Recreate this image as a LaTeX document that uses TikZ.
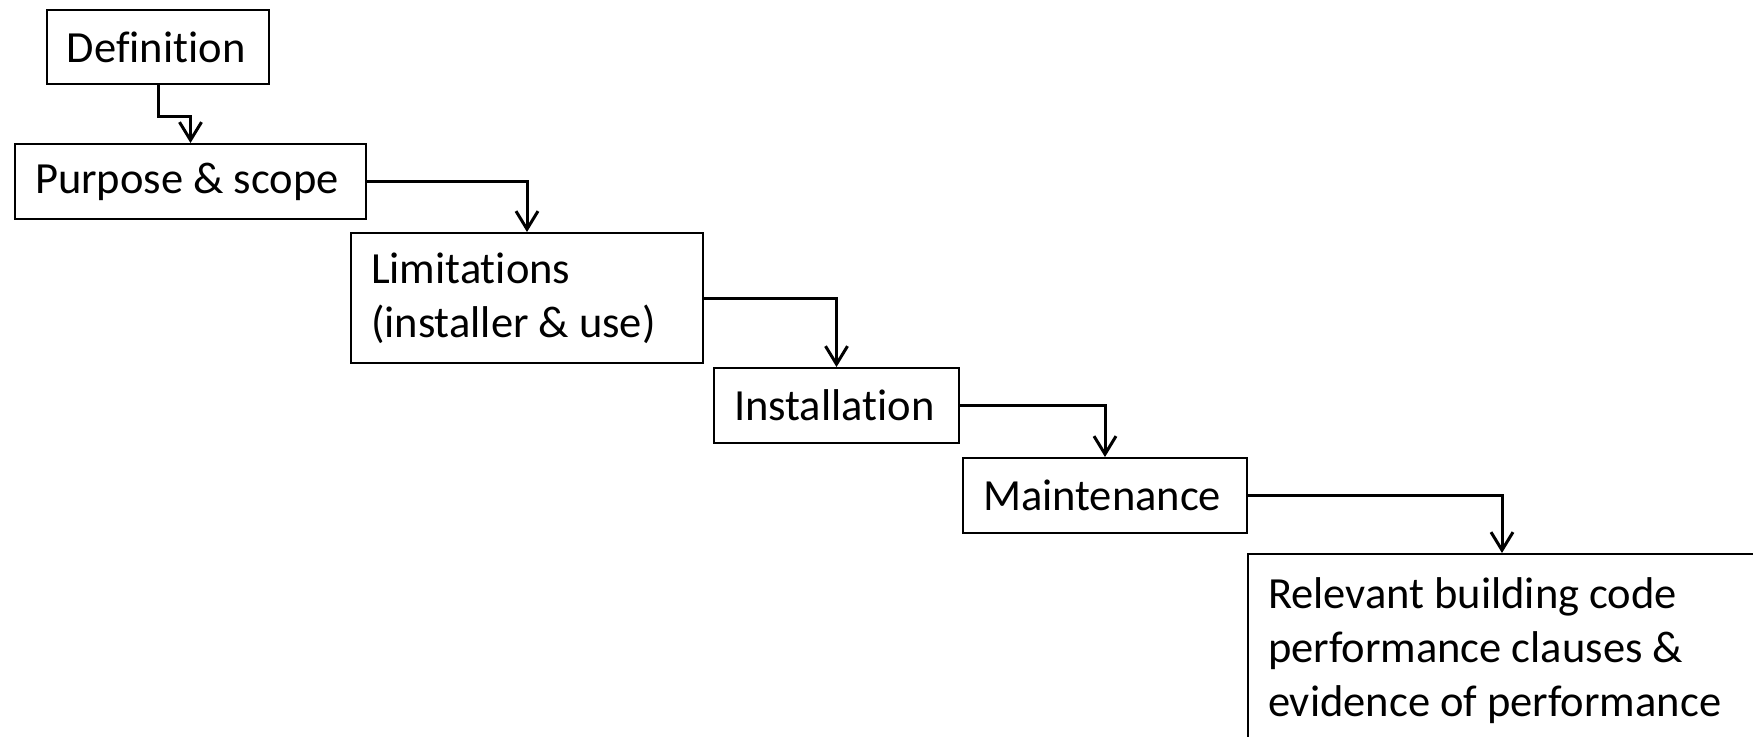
\documentclass[tikz,border=0pt]{standalone}
\usepackage{fontspec}
\setmainfont{Carlito}[Ligatures=NoCommon]
\usetikzlibrary{arrows.meta}

\begin{document}
\begin{tikzpicture}[x=0.5pt,y=-0.5pt]
		\useasboundingbox (0,0) rectangle (1753,736);
		\clip (0,0) rectangle (1753,736);

		\begin{scope}[every node/.style={draw,line width=1pt,anchor=north west,align=flush left,
					  inner xsep=10pt,inner ysep=0pt,font=\fontsize{22.25pt}{27pt}\selectfont}]
			\node[text width=91pt,minimum height=37pt] (def) at (46,9) {Definition};
			\node[text width=155.5pt,minimum height=37.5pt] (purp) at (14,143) {Purpose~\&~scope};

			\node[text width=156pt,minimum height=65pt] (lim) at (350,232) {Limitations\\(installer \& use)};
			\node[text width=102.5pt,minimum height=37.5pt] (inst) at (713,367) {Installation};

			\node[text width=122pt,minimum height=37.5pt] (maint) at (962,457) {Maintenance};
			\node[text width=234pt,minimum height=97pt] (rel) at (1247,553) {Relevant building code\\performance clauses \&\\evidence of performance};
		\end{scope}

		\begin{scope}[>={Straight Barb[length=9pt,width=11pt]},
					  every edge/.style={draw=black,line width=1.5pt,to path={-| (\tikztotarget)}}]
			\draw [->,line width=1.5pt] (def.south) -- ++(0,31) -| (purp.north);
			\path [->] (purp.east) edge (lim.north);
			\path [->] (lim.east) edge (inst.north);
			\path [->] (inst.east) edge (maint.north);
			\path [->] (maint.east) edge (rel.north);
		\end{scope}
		\end{tikzpicture}
\end{document}
